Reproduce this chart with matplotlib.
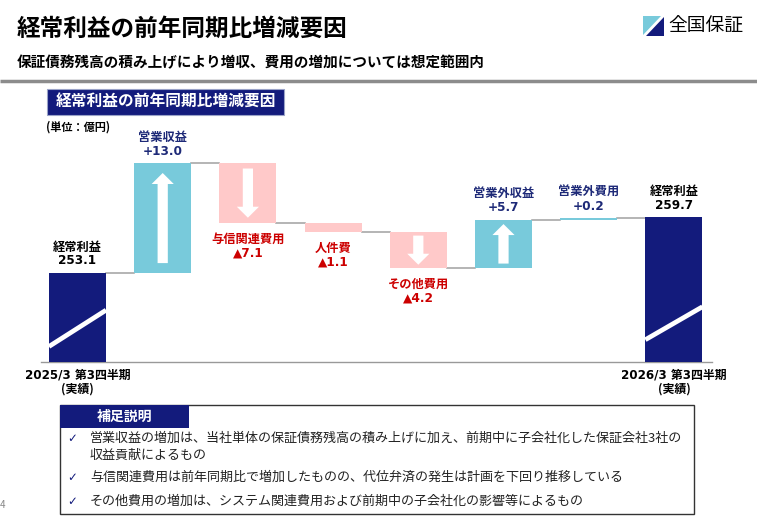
import matplotlib
matplotlib.use('Agg')
import matplotlib.pyplot as plt
from matplotlib.patches import Rectangle, Polygon, FancyArrow

plt.rcParams['font.family'] = ['Noto Sans CJK JP', 'DejaVu Sans']
NUM_FONT = ['DejaVu Sans', 'Noto Sans CJK JP']

# ---------------- data ----------------
step_labels = ['経常利益', '営業収益', '与信関連費用', '人件費', 'その他費用',
               '営業外収益', '営業外費用', '経常利益']
start_value = 253.1
deltas = [13.0, -7.1, -1.1, -4.2, 5.7, 0.2]
end_value = 259.7
value_texts = ['253.1', '+13.0', '▲7.1', '▲1.1', '▲4.2', '+5.7', '+0.2', '259.7']
period_labels = ['2025/3 第3四半期', '2026/3 第3四半期']
period_sub = '(実績)'

title = '経常利益の前年同期比増減要因'
subtitle = '保証債務残高の積み上げにより増収、費用の増加については想定範囲内'
chart_title = '経常利益の前年同期比増減要因'
unit_label = '(単位：億円)'
notes_header = '補足説明'
notes = [['営業収益の増加は、当社単体の保証債務残高の積み上げに加え、前期中に子会社化した保証会社3社の',
          '収益貢献によるもの'],
         ['与信関連費用は前年同期比で増加したものの、代位弁済の発生は計画を下回り推移している'],
         ['その他費用の増加は、システム関連費用および前期中の子会社化の影響等によるもの']]

NAVY = '#131b7c'
LIGHT_BLUE = '#78cadb'
PINK = '#ffc9c9'
RED = '#cc0000'
TEXT_NAVY = '#1e2a78'
GRAY = '#a0a0a0'

W, H = 757, 518
fig = plt.figure(figsize=(W / 100, H / 100), dpi=100)

# background layer in pixel coords
bg = fig.add_axes([0, 0, 1, 1])
bg.set_xlim(0, W)
bg.set_ylim(H, 0)
bg.axis('off')

bg.text(17, 29, title, fontsize=17, fontweight='bold', va='center', ha='left')
bg.text(17, 62, subtitle, fontsize=10.5, fontweight='bold', va='center', ha='left')
bg.plot([0, W], [80.5, 80.5], color='#8c8c8c', lw=2.5, solid_capstyle='butt')

# logo
bg.add_patch(Polygon([[643, 16], [661, 16], [643, 35]], closed=True, color=LIGHT_BLUE, lw=0))
bg.add_patch(Polygon([[664, 17], [664, 36], [646, 36]], closed=True, color=NAVY, lw=0))
bg.text(668, 26, '全国保証', fontsize=13.5, va='center', ha='left')

# chart title box
bg.add_patch(Rectangle((47, 88.5), 237, 26.5, facecolor=NAVY, edgecolor='#9aa3c8', lw=0.8))
bg.text(165.5, 101.5, chart_title, color='white', fontsize=11.3, fontweight='bold',
        va='center', ha='center')
bg.text(46, 127, unit_label, fontsize=8, fontweight='bold', va='center', ha='left')

# notes box
bg.add_patch(Rectangle((60, 405), 634, 108.5, facecolor='white', edgecolor='#333333', lw=1))
bg.add_patch(Rectangle((60, 405), 129, 22.5, facecolor=NAVY, lw=0))
bg.text(124.5, 416.5, notes_header, color='white', fontsize=10, fontweight='bold',
        va='center', ha='center')
note_y = [438.5, 477.5, 501]
for y, lines in zip(note_y, notes):
    bg.text(67, y, '✓', color=NAVY, fontsize=8.5, va='center', ha='left',
            family=['DejaVu Sans'])
    for k, line in enumerate(lines):
        bg.text(90, y + k * 16.7, line, color='#222222', fontsize=9.4,
                va='center', ha='left')
bg.text(0, 505, '4', color='#888888', fontsize=7, va='center', ha='left')

# ---------------- waterfall ----------------
px_left, px_right = 41, 712
px_bottom, px_top = 361.7, 120
y_scale = 8.45        # pixels per 億円
x_step = 85.2         # pixels per bar slot
y0 = 242.6
x_lo = (px_left - 77.5) / x_step
x_hi = (px_right - 77.5) / x_step
y_hi = y0 + (px_bottom - px_top) / y_scale

ax = fig.add_axes([px_left / W, 1 - px_bottom / H,
                   (px_right - px_left) / W, (px_bottom - px_top) / H])
ax.set_xlim(x_lo, x_hi)
ax.set_ylim(y0, y_hi)
ax.patch.set_alpha(0)
for s in ['top', 'left', 'right']:
    ax.spines[s].set_visible(False)
ax.spines['bottom'].set_color('#999999')
ax.spines['bottom'].set_linewidth(1)
ax.set_xticks([])
ax.set_yticks([])

bw = 0.67
n = len(step_labels)
levels = [start_value]
for d in deltas:
    levels.append(levels[-1] + d)

bottoms, heights, colors = [y0], [start_value - y0], [NAVY]
for i, d in enumerate(deltas):
    bottoms.append(min(levels[i], levels[i + 1]))
    heights.append(abs(d))
    colors.append(LIGHT_BLUE if d > 0 else PINK)
bottoms.append(y0)
heights.append(end_value - y0)
colors.append(NAVY)

xs = list(range(n))
ax.bar(xs, heights, bottom=bottoms, width=bw, color=colors, zorder=3)

# connectors
for i in range(n - 1):
    ax.plot([i + bw / 2, i + 1 - bw / 2], [levels[i], levels[i]], color=GRAY, lw=1.1, zorder=2)

# white arrows inside change bars
for i, d in enumerate(deltas, start=1):
    if abs(d) < 2:
        continue
    h = abs(d)
    pad = 0.09 * h
    if d > 0:
        ys, dy = bottoms[i] + pad, h - 2 * pad
    else:
        ys, dy = bottoms[i] + h - pad, -(h - 2 * pad)
    ax.add_patch(FancyArrow(i, ys, 0, dy, width=0.12, head_width=0.26, head_length=1.3,
                            length_includes_head=True, color='white', lw=0, zorder=4))

# break slashes on total bars
for i, (yl, yr) in zip([0, n - 1], [(244.4, 248.7), (245.2, 249.1)]):
    ax.plot([i - bw / 2, i + bw / 2], [yl, yr], color='white', lw=3.4, zorder=4,
            solid_capstyle='butt')

# labels: name + value, above for totals/increases, below for decreases
for i in range(n):
    if i == 0 or i == n - 1:
        col = 'black'
    elif deltas[i - 1] > 0:
        col = TEXT_NAVY
    else:
        col = RED
    if col == RED:
        anchor = bottoms[i]
        off_name, off_val = -16, -30
    else:
        anchor = bottoms[i] + heights[i]
        off_name, off_val = 26, 12
    ax.annotate(step_labels[i], (i, anchor), xytext=(0, off_name), textcoords='offset pixels',
                ha='center', va='center', color=col, fontsize=8.8, fontweight='bold',
                annotation_clip=False)
    ax.annotate(value_texts[i], (i, anchor), xytext=(0, off_val), textcoords='offset pixels',
                ha='center', va='center', color=col, fontsize=8.7, fontweight='bold',
                family=NUM_FONT, annotation_clip=False)

for i, lab in zip([0, n - 1], period_labels):
    ax.annotate(lab, (i, y0), xytext=(0, -13.5), textcoords='offset pixels',
                ha='center', va='center', fontsize=8.6, fontweight='bold',
                family=NUM_FONT, annotation_clip=False)
    ax.annotate(period_sub, (i, y0), xytext=(0, -27), textcoords='offset pixels',
                ha='center', va='center', fontsize=8.6, fontweight='bold',
                annotation_clip=False)

fig.savefig('out.png', dpi=100)
